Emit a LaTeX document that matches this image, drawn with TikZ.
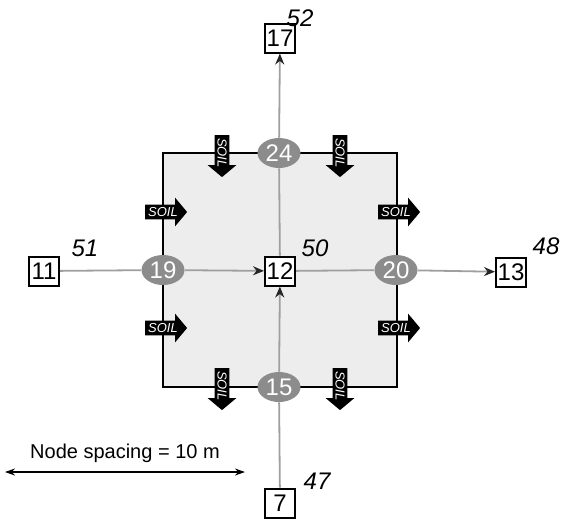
\documentclass[tikz,border=0pt]{standalone}
\usepackage{fontspec}
\setmainfont{Liberation Sans}
\usetikzlibrary{shapes.arrows,shapes.geometric}
\usetikzlibrary{arrows.meta}

\begin{document}
\begin{tikzpicture}[x=0.5pt,y=-0.5pt,
	cell_node/.style={draw,line width=1pt,fill=white,minimum width=15pt,minimum height=14.5pt,inner sep=0.5pt,font=\fontsize{12}{14}\selectfont},
	seg_node/.style={ellipse,fill=gray!90,text=white,minimum width=21.5pt,minimum height=15pt,inner sep=0pt,font=\fontsize{12}{14}\selectfont},
	soil_arrow/.style={single arrow,fill=black,text=white,inner sep=1.2pt,minimum height=21pt,single arrow head extend=3.5pt,single arrow tip angle=100,font=\fontsize{6.5}{7}\selectfont\itshape},
	flow/.style={draw=gray!75,line width=0.9pt},
	flow_in/.style={flow,-{Stealth[length=5.5pt,width=4.5pt,color=black!85]}},
	conc/.style={font=\fontsize{12}{14}\selectfont\itshape}]
	\useasboundingbox (0,0) rectangle (561,521);

	% grey element
	\draw[line width=0.9pt,fill=black!7] (163,153) rectangle (397,387);

	% soil inflow
	\node[soil_arrow,rotate=-90] (s1) at (222,153) {SOIL};
	\node[soil_arrow,rotate=-90] (s2) at (340,153) {SOIL};
	\node[soil_arrow,rotate=-90] (s3) at (222,386) {SOIL};
	\node[soil_arrow,rotate=-90] (s4) at (340,386) {SOIL};
	\node[soil_arrow] (s5) at (163,212) {SOIL};
	\node[soil_arrow] (s6) at (163,328) {SOIL};
	\node[soil_arrow] (s7) at (396,212) {SOIL};
	\node[soil_arrow] (s8) at (396,328) {SOIL};

	\node[cell_node] (12) at (280,271) {12};
	\node[cell_node] (17) at (280,38) {17};
	\node[cell_node] (11) at (44,271) {11};
	\node[cell_node] (13) at (511,272) {13};
	\node[cell_node] (7) at (280,503) {7};

	\node[seg_node] (24) at (279,153) {24};
	\node[seg_node] (19) at (163,270) {19};
	\node[seg_node] (20) at (396,270) {20};
	\node[seg_node] (15) at (279,387) {15};

	\draw[flow] (11) -- (19);
	\draw[flow_in] (19) -- (12);
	\draw[flow] (12) -- (20);
	\draw[flow_in] (20) -- (13);
	\draw[flow] (7) -- (15);
	\draw[flow_in] (15) -- (12);
	\draw[flow] (12) -- (24);
	\draw[flow_in] (24) -- (17);

	\node[conc] (c17) at (300,18) {52};
	\node[conc] (c12) at (315,248) {50};
	\node[conc] (c11) at (85,248) {51};
	\node[conc] (c13) at (546,246) {48};
	\node[conc] (c7) at (317,481) {47};

	% scale bar
	\coordinate (bar_l) at (5,472);
	\coordinate (bar_r) at (245,472);
	\draw[semithick,{Stealth[length=5pt,width=3.5pt]}-{Stealth[length=5pt,width=3.5pt]}] (bar_l) -- (bar_r) node[midway,above=1pt,font=\fontsize{10}{12}\selectfont] (bar_t) {Node spacing = 10 m};
\end{tikzpicture}
\end{document}
